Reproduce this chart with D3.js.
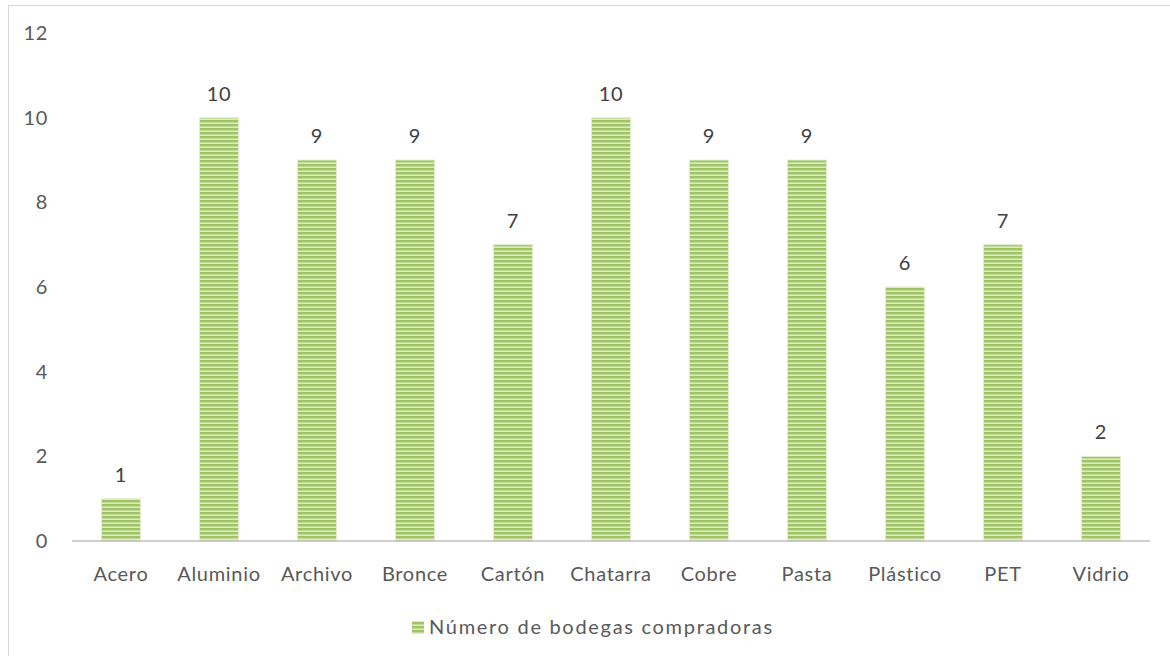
<!DOCTYPE html>
<html>
<head>
<meta charset="utf-8">
<script src="https://cdn.jsdelivr.net/npm/d3@7"></script>
<style>
  body { margin: 0; background: #fff; }
  text { font-family: Lato, "Open Sans", sans-serif; fill: #595959; letter-spacing: 0.7px; }
</style>
</head>
<body>
<div id="chart"></div>
<script>
const categories = ["Acero", "Aluminio", "Archivo", "Bronce", "Cartón", "Chatarra", "Cobre", "Pasta", "Plástico", "PET", "Vidrio"];
const values = [1, 10, 9, 9, 7, 10, 9, 9, 6, 7, 2];
const yTicks = [0, 2, 4, 6, 8, 10, 12];
const seriesName = "Número de bodegas compradoras";

const width = 1170, height = 656;
const fontSize = 20;
const svg = d3.select("#chart").append("svg")
    .attr("width", width)
    .attr("height", height);

// stripe pattern for bars
const defs = svg.append("defs");
const pat = defs.append("pattern")
    .attr("id", "stripes")
    .attr("patternUnits", "userSpaceOnUse")
    .attr("width", 8)
    .attr("height", 4);
pat.append("rect").attr("width", 8).attr("height", 4).attr("fill", "#dcebc6");
pat.append("rect").attr("y", 0).attr("width", 8).attr("height", 2).attr("fill", "#9fc562");
pat.append("rect").attr("y", 2).attr("width", 8).attr("height", 0.8).attr("fill", "#bcd792");

// chart border
svg.append("rect")
    .attr("x", 8.5).attr("y", 5.5)
    .attr("width", width).attr("height", height)
    .attr("fill", "none")
    .attr("stroke", "#d9d9d9");

const x = d3.scaleBand()
    .domain(categories)
    .range([72, 1150])
    .paddingInner(0.6)
    .paddingOuter(0.3);

const y = d3.scaleLinear()
    .domain([0, 12])
    .range([541, 33]);

// y tick labels
svg.append("g").selectAll("text")
    .data(yTicks)
    .join("text")
    .attr("x", 48)
    .attr("y", d => y(d))
    .attr("dy", "0.35em")
    .attr("text-anchor", "end")
    .attr("font-size", fontSize)
    .text(d => d);

// bars
svg.append("g").selectAll("rect")
    .data(values)
    .join("rect")
    .attr("x", (d, i) => x(categories[i]))
    .attr("y", d => y(d))
    .attr("width", x.bandwidth())
    .attr("height", d => y(0) - y(d))
    .attr("fill", "url(#stripes)")
    .attr("stroke", "#e4efd3")
    .attr("stroke-width", 1);

// value labels
svg.append("g").selectAll("text")
    .data(values)
    .join("text")
    .attr("x", (d, i) => x(categories[i]) + x.bandwidth() / 2)
    .attr("y", d => y(d) - 17)
    .attr("text-anchor", "middle")
    .attr("font-size", fontSize)
    .style("fill", "#404040")
    .text(d => d);

// baseline
svg.append("line")
    .attr("x1", 72).attr("x2", 1150)
    .attr("y1", y(0)).attr("y2", y(0))
    .attr("stroke", "#bfbfbf")
    .attr("stroke-width", 1.5);

// x labels
svg.append("g").selectAll("text")
    .data(categories)
    .join("text")
    .attr("x", d => x(d) + x.bandwidth() / 2)
    .attr("y", 581)
    .attr("text-anchor", "middle")
    .attr("font-size", fontSize)
    .text(d => d);

// legend
const legend = svg.append("g").attr("transform", "translate(412, 634)");
legend.append("rect")
    .attr("x", 0).attr("y", -13)
    .attr("width", 12).attr("height", 13)
    .attr("fill", "url(#stripes)");
legend.append("text")
    .attr("x", 17).attr("y", 0)
    .attr("font-size", fontSize)
    .style("letter-spacing", "1.7px")
    .text(seriesName);
</script>
</body>
</html>
